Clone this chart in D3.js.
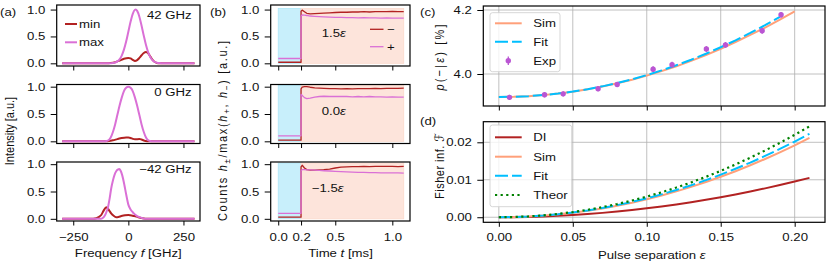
<!DOCTYPE html>
<html>
<head>
<meta charset="utf-8">
<script src="https://cdn.jsdelivr.net/npm/d3@7/dist/d3.min.js"></script>
<style>
  body { margin: 0; background: #fff; }
  svg { display: block; }
</style>
</head>
<body>
<svg id="fig" width="830" height="273"></svg>
<script>
// (a) spectra: [frequency in GHz, intensity]
const detuneLabels = ['42 GHz', '0 GHz', '\u221242 GHz'];
const freqTicks = [-250, 0, 250];
const specMaxP42 = [[-300,0],[-90,0],[-80,0.002],[-70,0.006],[-60,0.015],[-50,0.035],[-40,0.074],[-30,0.144],[-20,0.254],[-10,0.405],[0,0.588],[10,0.772],[20,0.921],[30,0.996],[33,1.0],[40,0.976],[50,0.868],[60,0.70],[70,0.513],[80,0.34],[90,0.205],[100,0.112],[110,0.055],[120,0.025],[130,0.01],[140,0.004],[150,0.001],[160,0],[300,0]];
const specMinP42 = [[-300,0],[-100,0],[-80,0.005],[-60,0.02],[-40,0.05],[-20,0.085],[0,0.1],[10,0.092],[20,0.065],[30,0.045],[40,0.06],[50,0.1],[60,0.15],[70,0.192],[80,0.21],[90,0.185],[100,0.125],[110,0.065],[120,0.025],[130,0.007],[140,0],[300,0]];
const specMax0 = [[-300,0],[-110,0],[-100,0.005],[-90,0.02],[-80,0.07],[-70,0.17],[-60,0.31],[-50,0.48],[-40,0.65],[-30,0.8],[-20,0.92],[-10,0.98],[0,1.0],[10,0.98],[20,0.92],[30,0.8],[40,0.65],[50,0.48],[60,0.31],[70,0.17],[80,0.07],[90,0.02],[100,0.005],[110,0],[300,0]];
const specMin0 = [[-300,0],[-100,0],[-90,0.004],[-70,0.018],[-50,0.04],[-30,0.06],[-10,0.07],[0,0.07],[10,0.062],[20,0.045],[30,0.036],[40,0.04],[50,0.042],[60,0.032],[70,0.016],[85,0.003],[100,0],[300,0]];
const specMaxM42 = [[-300,0],[-125,0],[-115,0.02],[-108,0.05],[-100,0.12],[-93,0.2],[-85,0.37],[-78,0.55],[-70,0.7],[-63,0.8],[-55,0.87],[-48,0.9],[-41,0.91],[-35,0.88],[-28,0.8],[-18,0.62],[-10,0.45],[0,0.26],[10,0.17],[20,0.12],[27,0.09],[40,0.05],[50,0.03],[65,0.01],[80,0],[300,0]];
const specMinM42 = [[-300,0],[-160,0],[-145,0.01],[-135,0.03],[-123,0.07],[-112,0.15],[-100,0.21],[-92,0.18],[-85,0.14],[-78,0.1],[-68,0.06],[-55,0.03],[-45,0.035],[-32,0.05],[-15,0.065],[0,0.07],[15,0.062],[27,0.05],[45,0.03],[65,0.01],[85,0],[300,0]];

// (b) normalised counts vs time (ms)
const timeTicks = [0, 0.2, 0.5, 1.0];
const biasLabels = ['1.5', '0.0', '\u22121.5'];
const tB = [0, 0.05, 0.1, 0.15, 0.2, 0.2, 0.21, 0.23, 0.25, 0.28, 0.32, 0.36, 0.4, 0.45, 0.5, 0.55, 0.6, 0.65, 0.7, 0.75, 0.8, 0.85, 0.9, 0.95, 1.0, 1.05, 1.1];
const hMinusP = [0.02,0.02,0.02,0.02,0.02,0.97,0.99,0.96,0.93,0.92,0.925,0.93,0.935,0.94,0.945,0.95,0.95,0.955,0.955,0.96,0.955,0.96,0.96,0.96,0.965,0.96,0.96];
const hPlusP  = [0.09,0.09,0.09,0.09,0.09,0.88,0.9,0.895,0.89,0.88,0.875,0.87,0.865,0.86,0.855,0.855,0.85,0.85,0.845,0.85,0.845,0.845,0.84,0.845,0.84,0.84,0.84];
const hMinus0 = [0.02,0.02,0.02,0.02,0.02,0.96,0.99,1.0,1.0,0.99,0.98,0.975,0.97,0.965,0.965,0.96,0.965,0.96,0.965,0.965,0.965,0.97,0.965,0.97,0.97,0.97,0.975];
const hPlus0  = [0.1,0.1,0.1,0.1,0.1,0.86,0.84,0.8,0.78,0.79,0.81,0.82,0.825,0.82,0.82,0.82,0.82,0.815,0.82,0.815,0.82,0.815,0.815,0.81,0.815,0.81,0.81];
const hMinusM = [0.03,0.03,0.03,0.03,0.03,0.95,0.98,0.93,0.9,0.89,0.89,0.895,0.9,0.91,0.93,0.945,0.95,0.955,0.955,0.96,0.955,0.96,0.96,0.96,0.96,0.955,0.96];
const hPlusM  = [0.1,0.1,0.1,0.1,0.1,0.88,0.9,0.9,0.895,0.895,0.89,0.885,0.88,0.875,0.87,0.865,0.86,0.855,0.85,0.85,0.845,0.845,0.84,0.84,0.84,0.84,0.835];

// (c) probability p(-|eps) in %
const epsTicks = [0, 0.05, 0.1, 0.15, 0.2];
const epsSim = [0,0.01,0.02,0.03,0.04,0.05,0.06,0.07,0.08,0.09,0.10,0.11,0.12,0.13,0.14,0.15,0.16,0.17,0.18,0.19,0.20];
const pSim = [3.928,3.9287,3.9307,3.934,3.9387,3.9448,3.952,3.961,3.971,3.982,3.995,4.009,4.024,4.041,4.059,4.079,4.100,4.122,4.145,4.170,4.196];
const epsFit = [0,0.01,0.02,0.03,0.04,0.05,0.06,0.07,0.08,0.09,0.10,0.11,0.12,0.13,0.14,0.15,0.16,0.17,0.18,0.19];
const pFit = [3.928,3.9287,3.9307,3.934,3.9388,3.945,3.9524,3.9614,3.9718,3.9834,3.9966,4.0112,4.0272,4.0446,4.0634,4.0836,4.1052,4.1282,4.1526,4.1784];
const epsExp = [0.0072,0.0309,0.0435,0.0671,0.080,0.1043,0.1171,0.1403,0.1532,0.178,0.1908];
const pExp = [3.927,3.935,3.938,3.954,3.967,4.015,4.029,4.078,4.091,4.135,4.185];
const pErr = [0.008,0.008,0.008,0.008,0.008,0.009,0.009,0.009,0.009,0.009,0.009];

// (d) Fisher information
const epsD = [0,0.01,0.02,0.03,0.04,0.05,0.06,0.07,0.08,0.09,0.10,0.11,0.12,0.13,0.14,0.15,0.16,0.17,0.18,0.19,0.20,0.21];
const fisherDI = [0,0.000024,0.000095,0.000214,0.000381,0.000595,0.000857,0.001166,0.001523,0.001928,0.00238,0.00288,0.00343,0.00402,0.00466,0.00536,0.00609,0.00688,0.00771,0.00859,0.00952,0.0105];
const fisherSim = [0,0.000048,0.000192,0.000432,0.000768,0.0012,0.001728,0.002352,0.003072,0.003888,0.0048,0.005808,0.006912,0.008112,0.009408,0.0108,0.012288,0.013872,0.015552,0.017328,0.0192,0.021168];
const fisherFit = [0,0.00005,0.000202,0.000455,0.000808,0.001263,0.001818,0.002475,0.003232,0.004091,0.00505,0.00611,0.00727,0.008535,0.009898,0.01136,0.01293,0.01459,0.01636,0.01823,0.0202,0.02227];
const fisherTheor = [0,0.000055,0.00022,0.000495,0.00088,0.001375,0.00198,0.002695,0.00352,0.004455,0.0055,0.006655,0.00792,0.009295,0.01078,0.012375,0.01408,0.015895,0.01782,0.019855,0.022,0.024255];

const C_MIN = '#b22222', C_MAX = '#da70d6', C_EXP = '#ba55d3';
const C_SIM = '#ffa07a', C_FIT = '#00bfff', C_TH = '#008000', C_DI = '#b22222';
const FONT = '"Liberation Sans", Arial, Helvetica, sans-serif';
const FS = 11, SX = 1.2; // text is a bit wide in the reference

const svg = d3.select('#fig');

function txt(parent, x, y, parts, o = {}) {
  const size = o.size || FS;
  const t = parent.append('text')
    .attr('transform', o.rot
      ? `translate(${x},${y}) rotate(-90) scale(1,${SX})`
      : `translate(${x},${y}) scale(${SX},1)`)
    .attr('text-anchor', o.anchor || 'start')
    .attr('font-family', FONT).attr('font-size', size).attr('fill', '#111');
  if (o.len) t.attr('textLength', o.len).attr('lengthAdjust', 'spacing');
  if (typeof parts === 'string') parts = [[parts]];
  let shift = 0;
  parts.forEach(([s, k]) => {
    const sp = t.append('tspan').text(s);
    const want = k === 'sub' ? size * 0.28 : 0;
    if (want !== shift) { sp.attr('dy', want - shift); shift = want; }
    if (k === 'i') sp.attr('font-style', 'italic');
    if (k === 'sub') sp.attr('font-size', size * 0.72);
    if (k === 'sym') sp.attr('font-family', '"DejaVu Sans", sans-serif');
  });
  return t;
}

function styleAxis(a) {
  a.attr('font-family', FONT).attr('font-size', FS);
  a.select('.domain').remove();
  a.selectAll('.tick line').attr('stroke', '#000').attr('stroke-width', 1);
  a.selectAll('.tick text').attr('fill', '#111').attr('transform', `scale(${SX},1)`);
}
function leftAxis(g, y, x0, ticks, fmt) {
  const a = g.append('g').attr('transform', `translate(${x0},0)`)
    .call(d3.axisLeft(y).tickValues(ticks).tickFormat(fmt).tickSize(6).tickPadding(3.5));
  styleAxis(a);
}
function bottomAxis(g, x, y0, ticks, fmt, show, pad) {
  const a = g.append('g').attr('transform', `translate(0,${y0})`)
    .call(d3.axisBottom(x).tickValues(ticks).tickFormat(show ? fmt : () => '').tickSize(4.5).tickPadding(pad || 7.5));
  styleAxis(a);
}
function frame(g, x, y) {
  const [x0, x1] = x.range(), [y0, y1] = y.range();
  g.append('rect').attr('x', x0).attr('y', y1).attr('width', x1 - x0).attr('height', y0 - y1)
    .attr('fill', 'none').attr('stroke', '#000').attr('stroke-width', 1.2);
}
function grid(g, x, y, xt, yt) {
  const [x0, x1] = x.range(), [y0, y1] = y.range();
  xt.forEach(v => g.append('line').attr('x1', x(v)).attr('x2', x(v)).attr('y1', y0).attr('y2', y1)
    .attr('stroke', '#b0b0b0').attr('stroke-width', 0.8));
  yt.forEach(v => g.append('line').attr('x1', x0).attr('x2', x1).attr('y1', y(v)).attr('y2', y(v))
    .attr('stroke', '#b0b0b0').attr('stroke-width', 0.8));
}
function path(g, d, color, w, dash) {
  const p = g.append('path').attr('d', d).attr('fill', 'none').attr('stroke', color)
    .attr('stroke-width', w).attr('stroke-linejoin', 'round');
  if (dash) p.attr('stroke-dasharray', dash);
  return p;
}

const rows = [
  { top: 5, bot: 66, dom: [-0.05, 1.085] },
  { top: 84.5, bot: 143.5, dom: [-0.04, 1.04] },
  { top: 162, bot: 221, dom: [-0.04, 1.04] }
];
const fmt1 = d3.format('.1f');

// ---------- (a) ----------
const xA = d3.scaleLinear().domain([-325, 325]).range([56.7, 200]);
const specMax = [specMaxP42, specMax0, specMaxM42];
const specMin = [specMinP42, specMin0, specMinM42];
rows.forEach((r, i) => {
  const y = d3.scaleLinear().domain(r.dom).range([r.bot, r.top]);
  const g = svg.append('g');
  const line = d3.line().x(d => xA(d[0])).y(d => y(d[1])).curve(d3.curveMonotoneX);
  path(g, line(specMin[i]), C_MIN, 2);
  path(g, line(specMax[i]), C_MAX, 2);
  leftAxis(g, y, 56.7, [0, 0.5, 1], fmt1);
  bottomAxis(g, xA, r.bot, freqTicks, d3.format('d'), i === 2);
  frame(g, xA, y);
  txt(g, 191.7, [18.5, 96, 173][i], detuneLabels[i], { anchor: 'end' });
});
{
  const g = svg.append('g');
  [[C_MIN, 'min', 24], [C_MAX, 'max', 42.3]].forEach(([c, s, yy]) => {
    g.append('line').attr('x1', 65).attr('x2', 77).attr('y1', yy).attr('y2', yy).attr('stroke', c).attr('stroke-width', 2);
    txt(g, 79, yy + 3.9, s);
  });
  txt(g, 0, 15.5, '(a)');
  txt(g, 13.5, 131, 'Intensity [a.u.]', { rot: true, anchor: 'middle' });
  txt(g, 128.3, 257, [['Frequency '], ['f', 'i'], [' [GHz]']], { anchor: 'middle' });
}

// ---------- (b) ----------
const xB = d3.scaleLinear().domain([-0.066, 1.155]).range([270.7, 410]);
const hMinus = [hMinusP, hMinus0, hMinusM];
const hPlus = [hPlusP, hPlus0, hPlusM];
rows.forEach((r, i) => {
  const y = d3.scaleLinear().domain(r.dom).range([r.bot, r.top]);
  const g = svg.append('g');
  g.append('rect').attr('x', xB(0)).attr('width', xB(0.2) - xB(0))
    .attr('y', y(1.02)).attr('height', y(0) - y(1.02))
    .attr('fill', '#c8effb').attr('stroke', '#aee6f7').attr('stroke-width', 0.8);
  g.append('rect').attr('x', xB(0.2)).attr('width', xB(1.1) - xB(0.2))
    .attr('y', y(1.02)).attr('height', y(0) - y(1.02))
    .attr('fill', '#fde4db').attr('stroke', '#fbd9cc').attr('stroke-width', 0.8);
  const line = d3.line().x((d, k) => xB(tB[k])).y(d => y(d));
  path(g, line(hMinus[i]), C_MIN, 1.3);
  path(g, line(hPlus[i]), C_MAX, 1.3);
  leftAxis(g, y, 270.7, [0, 0.5, 1], fmt1);
  bottomAxis(g, xB, r.bot, timeTicks, fmt1, i === 2);
  frame(g, xB, y);
  txt(g, [321.7, 321.7, 311.7][i], [36.5, 115, 191.7][i], [[biasLabels[i]], ['\u03b5', 'i']]);
});
{
  const g = svg.append('g');
  [[C_MIN, '\u2212', 29.3], [C_MAX, '+', 46.7]].forEach(([c, s, yy]) => {
    g.append('line').attr('x1', 370).attr('x2', 383.5).attr('y1', yy).attr('y2', yy).attr('stroke', c).attr('stroke-width', 1.3);
    txt(g, 387, yy + 3.9, s);
  });
  txt(g, 210, 15.5, '(b)');
  txt(g, 226.5, 131, [['Counts '], ['h', 'i'], ['\u00b1', 'sub'], ['/max('], ['h', 'i'], ['+', 'sub'], [', '], ['h', 'i'], ['\u2212', 'sub'], [') [a.u.]']], { rot: true, anchor: 'middle', len: 180 });
  txt(g, 340.5, 257, [['Time '], ['t', 'i'], [' [ms]']], { anchor: 'middle' });
}

// ---------- (c) ----------
const xC = d3.scaleLinear().domain([-0.0105, 0.2205]).range([483.3, 825]);
{
  const y = d3.scaleLinear().domain([3.9, 4.2125]).range([106, 6]);
  const g = svg.append('g');
  grid(g, xC, y, epsTicks, [4.0, 4.2]);
  const line = d3.line().x(d => xC(d[0])).y(d => y(d[1]));
  path(g, line(epsSim.map((e, k) => [e, pSim[k]])), C_SIM, 2);
  path(g, line(epsFit.map((e, k) => [e, pFit[k]])), C_FIT, 2, '13,4');
  epsExp.forEach((e, k) => {
    g.append('line').attr('x1', xC(e)).attr('x2', xC(e))
      .attr('y1', y(pExp[k] - pErr[k])).attr('y2', y(pExp[k] + pErr[k]))
      .attr('stroke', C_EXP).attr('stroke-width', 1.3);
    g.append('circle').attr('cx', xC(e)).attr('cy', y(pExp[k])).attr('r', 2.7).attr('fill', C_EXP);
  });
  leftAxis(g, y, 483.3, [4.0, 4.2], fmt1);
  bottomAxis(g, xC, 106, epsTicks, d3.format('.2f'), false);
  frame(g, xC, y);
  g.append('rect').attr('x', 490).attr('y', 12.7).attr('width', 70).attr('height', 59).attr('rx', 2.5)
    .attr('fill', '#fff').attr('fill-opacity', 0.8).attr('stroke', '#cccccc').attr('stroke-width', 0.8);
  [[C_SIM, 'Sim', 23.3, null], [C_FIT, 'Fit', 41.7, '13,4']].forEach(([c, s, yy, dash]) => {
    const l = g.append('line').attr('x1', 495).attr('x2', 521.7).attr('y1', yy).attr('y2', yy).attr('stroke', c).attr('stroke-width', 2);
    if (dash) l.attr('stroke-dasharray', dash);
    txt(g, 533.3, yy + 3.9, s);
  });
  g.append('line').attr('x1', 508.3).attr('x2', 508.3).attr('y1', 56.5).attr('y2', 65).attr('stroke', C_EXP).attr('stroke-width', 1.3);
  g.append('circle').attr('cx', 508.3).attr('cy', 60.7).attr('r', 2.7).attr('fill', C_EXP);
  txt(g, 533.3, 64.6, 'Exp');
  txt(g, 420, 15.5, '(c)');
  txt(g, 444, 57.5, [['p', 'i'], ['(\u2212|'], ['\u03b5', 'i'], [') [%]']], { rot: true, anchor: 'middle', len: 66 });
}

// ---------- (d) ----------
{
  const y = d3.scaleLinear().domain([-0.00135, 0.0255]).range([222.3, 121.7]);
  const g = svg.append('g');
  grid(g, xC, y, epsTicks, [0, 0.01, 0.02]);
  const line = d3.line().x((d, k) => xC(epsD[k])).y(d => y(d));
  path(g, line(fisherDI), C_DI, 2);
  path(g, line(fisherSim), C_SIM, 2);
  path(g, line(fisherFit), C_FIT, 2, '13,4');
  path(g, line(fisherTheor), C_TH, 2.2, '2.2,3.4').attr('stroke-linejoin', 'miter');
  leftAxis(g, y, 483.3, [0, 0.01, 0.02], d3.format('.2f'));
  bottomAxis(g, xC, 222.3, epsTicks, d3.format('.2f'), true, 6.5);
  frame(g, xC, y);
  g.append('rect').attr('x', 490).attr('y', 125).attr('width', 81.7).attr('height', 81.7).attr('rx', 2.5)
    .attr('fill', '#fff').attr('fill-opacity', 0.8).attr('stroke', '#cccccc').attr('stroke-width', 0.8);
  [[C_DI, 'DI', 137.3, null], [C_SIM, 'Sim', 156.7, null], [C_FIT, 'Fit', 175.7, '13,4'], [C_TH, 'Theor', 195, '2.2,3.4']].forEach(([c, s, yy, dash]) => {
    const l = g.append('line').attr('x1', 495).attr('x2', 521.7).attr('y1', yy).attr('y2', yy).attr('stroke', c).attr('stroke-width', 2);
    if (dash) l.attr('stroke-dasharray', dash);
    txt(g, 533.3, yy + 3.9, s);
  });
  txt(g, 420, 125, '(d)');
  txt(g, 444, 166, [['Fisher inf. '], ['\u2131', 'sym']], { rot: true, anchor: 'middle', len: 66 });
  txt(g, 651.7, 258.5, [['Pulse separation '], ['\u03b5', 'i']], { anchor: 'middle' });
}
</script>
</body>
</html>
